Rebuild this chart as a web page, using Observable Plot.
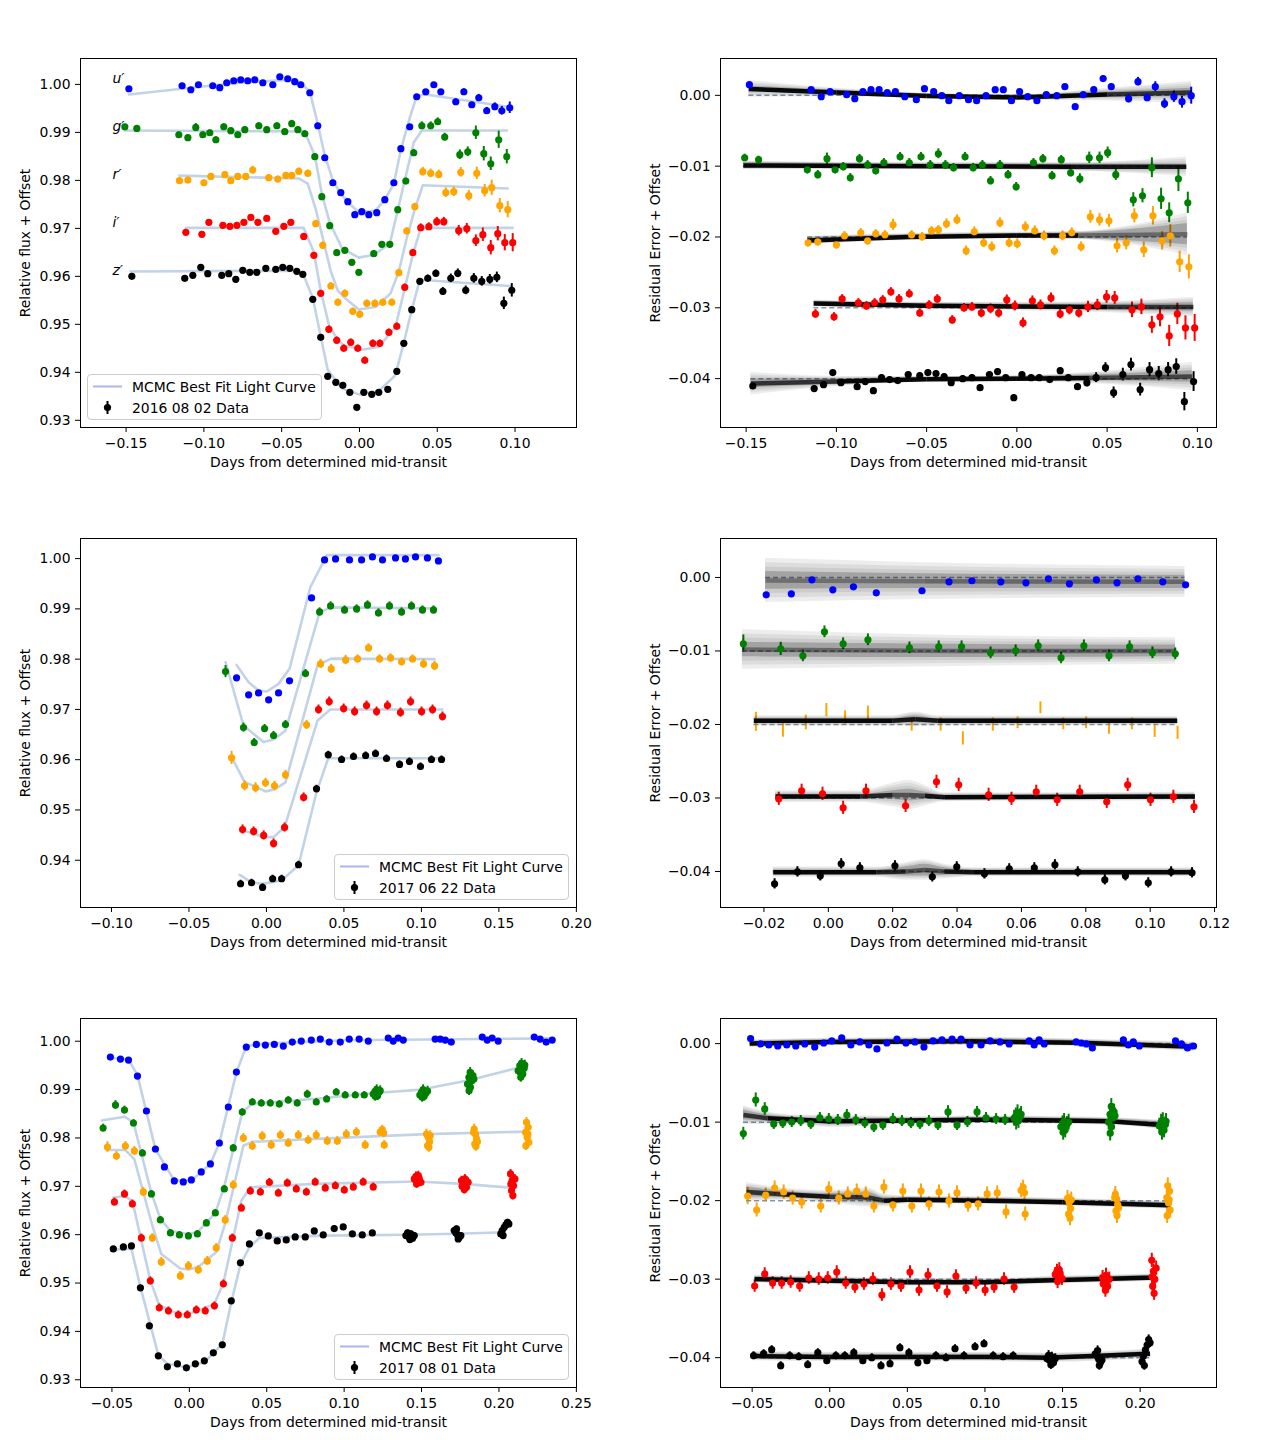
<!DOCTYPE html>
<html>
<head>
<meta charset="utf-8">
<script src="https://cdn.jsdelivr.net/npm/d3@7"></script>
<script src="https://cdn.jsdelivr.net/npm/@observablehq/plot@0.6"></script>
<style>
  body { margin: 0; background: #fff; }
  #fig { position: relative; width: 1280px; height: 1440px; background: #fff; font-family: "DejaVu Sans", sans-serif; overflow: hidden; }
  #fig svg.panel { position: absolute; }
  .legend { position: absolute; width: 235px; height: 46px; box-sizing: border-box; border: 1px solid #cccccc; border-radius: 4px; background: rgba(255,255,255,0.8); font-size: 13.9px; color: #000; }
  .legend .t { position: absolute; left: 44px; line-height: 18px; white-space: nowrap; }
</style>
</head>
<body>
<div id="fig"></div>
<script>
// ---------- shared labels, colours, ticks ----------
const bandNames = ["u′", "g′", "r′", "i′", "z′"];
const bandColors = ["#0000ff", "#008000", "#ffa500", "#ff0000", "#000000"];
const fluxOffsets = [1.00, 0.99, 0.98, 0.97, 0.96];
const residualOffsets = [0.00, -0.01, -0.02, -0.03, -0.04];
const nightDates = ["2016 08 02", "2017 06 22", "2017 08 01"];
const legendLineLabel = "MCMC Best Fit Light Curve";
const xAxisLabel = "Days from determined mid-transit";
const fluxAxisLabel = "Relative flux + Offset";
const residAxisLabel = "Residual Error + Offset";

const ticksX1 = [-0.15, -0.10, -0.05, 0.00, 0.05, 0.10];
const ticksX3 = [-0.10, -0.05, 0.00, 0.05, 0.10, 0.15, 0.20];
const ticksX4 = [-0.02, 0.00, 0.02, 0.04, 0.06, 0.08, 0.10, 0.12];
const ticksX5 = [-0.05, 0.00, 0.05, 0.10, 0.15, 0.20, 0.25];
const ticksX6 = [-0.05, 0.00, 0.05, 0.10, 0.15, 0.20];
const ticksFlux = [0.93, 0.94, 0.95, 0.96, 0.97, 0.98, 0.99, 1.00];
const ticksFlux3 = [0.94, 0.95, 0.96, 0.97, 0.98, 0.99, 1.00];
const ticksResid = [0.00, -0.01, -0.02, -0.03, -0.04];

// ---------- night 1 (2016 08 02) ----------
const u1x = [-0.1482,-0.1140,-0.1084,-0.1035,-0.0943,-0.0898,-0.0853,-0.0808,-0.0763,-0.0718,-0.0673,-0.0621,-0.0557,-0.0512,-0.0461,-0.0416,-0.0377,-0.0319,-0.0268,-0.0223,-0.0171,-0.0120,-0.0075,-0.0030,0.0015,0.0060,0.0111,0.0163,0.0221,0.0266,0.0323,0.0368,0.0426,0.0478,0.0523,0.0619,0.0671,0.0722,0.0767,0.0818,0.0870,0.0915,0.0966];
const u1y = [0.99910,0.99972,0.99889,0.99993,0.99972,0.99931,1.00035,1.00076,1.00097,1.00076,1.00097,1.00035,0.99993,1.00160,1.00118,1.00056,0.99993,0.99826,0.99139,0.98472,0.97951,0.97743,0.97556,0.97285,0.97347,0.97285,0.97326,0.97597,0.97951,0.98660,0.99118,0.99743,0.99847,0.99993,0.99847,0.99639,0.99847,0.99576,0.99722,0.99451,0.99535,0.99451,0.99514];
const u1e = [0.0003,0.0003,0.0003,0.0003,0.0003,0.0003,0.0003,0.0003,0.0003,0.0003,0.0003,0.0003,0.0003,0.0003,0.0003,0.0003,0.0003,0.0003,0.0003,0.0003,0.0003,0.0003,0.0003,0.0003,0.0003,0.0003,0.0003,0.0003,0.0003,0.0003,0.0003,0.0003,0.0004,0.0004,0.0004,0.0006,0.0006,0.0005,0.0007,0.0007,0.0008,0.0009,0.0012];
const u1r = [0.00151,0.00080,-0.00019,0.00052,0.00009,-0.00047,0.00052,0.00080,0.00080,0.00038,0.00052,-0.00019,-0.00061,0.00094,0.00052,-0.00005,-0.00075,-0.00005,-0.00061,-0.00075,-0.00005,0.00080,0.00080,-0.00075,0.00052,-0.00019,-0.00075,0.00009,-0.00005,0.00122,-0.00160,0.00009,0.00080,0.00236,0.00122,-0.00047,0.00193,-0.00033,0.00122,-0.00118,-0.00019,-0.00090,-0.00005];
const u1mx = [-0.1482,-0.1140,-0.0763,-0.0416,-0.0377,-0.0319,-0.0268,-0.0223,-0.0171,-0.0120,-0.0075,-0.0004,0.0103,0.0163,0.0221,0.0266,0.0323,0.0368,0.0426,0.0966];
const u1my = [0.9979,0.9991,1.0004,1.0010,1.0003,0.9985,0.9918,0.9852,0.9800,0.9772,0.9755,0.9733,0.9737,0.9760,0.9793,0.9864,0.9930,0.9976,0.9979,0.9953];

const g1x = [-0.1508,-0.1431,-0.1161,-0.1103,-0.1052,-0.1007,-0.0962,-0.0923,-0.0872,-0.0827,-0.0782,-0.0737,-0.0647,-0.0596,-0.0531,-0.0480,-0.0435,-0.0396,-0.0351,-0.0287,-0.0242,-0.0191,-0.0146,-0.0094,-0.0049,-0.0004,0.0092,0.0144,0.0195,0.0246,0.0298,0.0349,0.0401,0.0458,0.0503,0.0548,0.0645,0.0696,0.0748,0.0799,0.0844,0.0895,0.0947];
const g1y = [0.99118,0.99083,0.98951,0.98889,0.99104,0.98951,0.98993,0.98847,0.99118,0.99035,0.98951,0.99056,0.99139,0.99056,0.99139,0.99014,0.99181,0.99056,0.98972,0.98493,0.97660,0.97056,0.96493,0.96542,0.96292,0.96083,0.96472,0.96667,0.96667,0.97389,0.97986,0.98576,0.99139,0.99139,0.99222,0.98903,0.98535,0.98597,0.98993,0.98556,0.98347,0.98847,0.98493];
const g1e = [0.0005,0.0005,0.0006,0.0006,0.0008,0.0006,0.0006,0.0006,0.0006,0.0006,0.0006,0.0006,0.0006,0.0006,0.0006,0.0006,0.0007,0.0006,0.0006,0.0006,0.0006,0.0006,0.0006,0.0006,0.0006,0.0006,0.0006,0.0006,0.0006,0.0006,0.0006,0.0007,0.0008,0.0008,0.0008,0.0008,0.0010,0.0010,0.0014,0.0015,0.0014,0.0018,0.0015];
const g1r = [-0.00881,-0.00909,-0.01051,-0.01121,-0.00895,-0.01051,-0.01008,-0.01164,-0.00895,-0.00980,-0.01065,-0.00952,-0.00867,-0.00952,-0.00867,-0.00980,-0.00825,-0.00980,-0.01022,-0.00867,-0.01022,-0.00980,-0.01206,-0.00980,-0.01121,-0.01291,-0.00952,-0.00895,-0.01135,-0.00909,-0.01093,-0.01178,-0.00881,-0.00881,-0.00810,-0.01121,-0.01475,-0.01418,-0.01022,-0.01461,-0.01658,-0.01178,-0.01517];
const g1mx = [-0.1508,-0.0353,-0.0287,-0.0242,-0.0191,-0.0111,-0.0004,0.0092,0.0195,0.0349,0.0401,0.0947];
const g1my = [0.9904,0.9902,0.9852,0.9772,0.9712,0.9658,0.9639,0.9645,0.9668,0.9879,0.9904,0.9904];

const r1x = [-0.1157,-0.1103,-0.1000,-0.0955,-0.0865,-0.0827,-0.0782,-0.0731,-0.0686,-0.0583,-0.0525,-0.0473,-0.0435,-0.0390,-0.0332,-0.0281,-0.0236,-0.0184,-0.0139,-0.0094,-0.0043,0.0002,0.0047,0.0099,0.0150,0.0208,0.0253,0.0304,0.0356,0.0407,0.0458,0.0510,0.0555,0.0606,0.0651,0.0703,0.0754,0.0805,0.0850,0.0902,0.0953];
const r1y = [0.97993,0.98007,0.97951,0.98083,0.98118,0.97993,0.98083,0.98083,0.98215,0.98056,0.98028,0.98104,0.98104,0.98188,0.98146,0.97097,0.96646,0.95799,0.95458,0.95646,0.95271,0.95208,0.95438,0.95438,0.95458,0.95458,0.96076,0.96944,0.97451,0.98181,0.98146,0.98125,0.97743,0.97764,0.98167,0.97681,0.98146,0.97785,0.97847,0.97472,0.97389];
const r1e = [0.0006,0.0006,0.0006,0.0006,0.0006,0.0006,0.0006,0.0006,0.0008,0.0006,0.0006,0.0006,0.0006,0.0007,0.0007,0.0007,0.0007,0.0007,0.0007,0.0007,0.0007,0.0007,0.0007,0.0007,0.0007,0.0007,0.0007,0.0007,0.0007,0.0009,0.0009,0.0009,0.0010,0.0010,0.0010,0.0011,0.0013,0.0013,0.0016,0.0015,0.0017];
const r1r = [-0.02082,-0.02068,-0.02111,-0.01984,-0.01941,-0.02054,-0.01955,-0.01969,-0.01828,-0.01969,-0.01998,-0.01913,-0.01899,-0.01814,-0.01757,-0.02196,-0.01927,-0.02082,-0.02139,-0.01800,-0.02082,-0.02097,-0.01856,-0.01913,-0.01984,-0.02196,-0.01984,-0.01941,-0.02139,-0.01715,-0.01757,-0.01772,-0.02125,-0.02082,-0.01701,-0.02181,-0.01701,-0.02054,-0.01984,-0.02351,-0.02422];
const r1mx = [-0.1157,-0.0390,-0.0332,-0.0281,-0.0236,-0.0184,-0.0139,-0.0090,-0.0004,0.0103,0.0199,0.0253,0.0304,0.0356,0.0407,0.0953];
const r1my = [0.9810,0.9804,0.9793,0.9740,0.9680,0.9610,0.9570,0.9554,0.9531,0.9536,0.9564,0.9610,0.9680,0.9740,0.9790,0.9783];

const i1x = [-0.1116,-0.1013,-0.0968,-0.0878,-0.0833,-0.0788,-0.0743,-0.0698,-0.0653,-0.0596,-0.0538,-0.0486,-0.0441,-0.0358,-0.0293,-0.0249,-0.0197,-0.0146,-0.0101,-0.0056,-0.0011,0.0034,0.0086,0.0131,0.0189,0.0240,0.0291,0.0343,0.0394,0.0446,0.0497,0.0542,0.0638,0.0690,0.0748,0.0793,0.0844,0.0889,0.0934,0.0985];
const i1y = [0.96917,0.96875,0.97125,0.97063,0.97042,0.97063,0.97125,0.97229,0.97125,0.97208,0.96938,0.97042,0.97125,0.96833,0.96438,0.95646,0.94896,0.94667,0.94500,0.94625,0.94500,0.94250,0.94604,0.94604,0.94833,0.94958,0.95771,0.96493,0.97014,0.97035,0.97139,0.97139,0.96951,0.96993,0.96743,0.96868,0.96597,0.96889,0.96701,0.96701];
const i1e = [0.0006,0.0006,0.0006,0.0006,0.0006,0.0006,0.0006,0.0006,0.0006,0.0006,0.0006,0.0006,0.0006,0.0006,0.0006,0.0006,0.0007,0.0007,0.0007,0.0007,0.0007,0.0007,0.0007,0.0007,0.0007,0.0007,0.0007,0.0007,0.0008,0.0008,0.0009,0.0009,0.0011,0.0011,0.0012,0.0014,0.0015,0.0015,0.0017,0.0019];
const i1r = [-0.03086,-0.03128,-0.02874,-0.02930,-0.02973,-0.02930,-0.02888,-0.02775,-0.02874,-0.02803,-0.03072,-0.02959,-0.02874,-0.03171,-0.03001,-0.02987,-0.03072,-0.03015,-0.03072,-0.02888,-0.02973,-0.03213,-0.02902,-0.02959,-0.02860,-0.03086,-0.03029,-0.03072,-0.02987,-0.02959,-0.02846,-0.02860,-0.03029,-0.02987,-0.03241,-0.03128,-0.03397,-0.03086,-0.03284,-0.03284];
const i1mx = [-0.1116,-0.0358,-0.0293,-0.0249,-0.0197,-0.0146,-0.0101,0.0017,0.0124,0.0231,0.0291,0.0343,0.0394,0.0985];
const i1my = [0.9701,0.9701,0.9650,0.9570,0.9500,0.9470,0.9456,0.9447,0.9453,0.9494,0.9575,0.9645,0.9701,0.9701];

const z1x = [-0.1463,-0.1123,-0.1071,-0.1020,-0.0975,-0.0885,-0.0840,-0.0795,-0.0750,-0.0705,-0.0660,-0.0602,-0.0538,-0.0493,-0.0448,-0.0403,-0.0364,-0.0300,-0.0249,-0.0204,-0.0152,-0.0107,-0.0062,-0.0017,0.0028,0.0079,0.0124,0.0182,0.0240,0.0285,0.0336,0.0388,0.0439,0.0491,0.0536,0.0587,0.0632,0.0683,0.0735,0.0786,0.0838,0.0883,0.0928,0.0979];
const z1y = [0.96000,0.95958,0.96021,0.96188,0.96056,0.96021,0.96056,0.95938,0.96125,0.96083,0.96083,0.96167,0.96146,0.96188,0.96167,0.96104,0.96042,0.95521,0.94729,0.93917,0.93792,0.93729,0.93583,0.93271,0.93583,0.93542,0.93583,0.93646,0.94021,0.94604,0.95306,0.95896,0.95958,0.96063,0.95688,0.95958,0.96063,0.95708,0.95958,0.95896,0.95938,0.95979,0.95438,0.95708];
const z1e = [0.0004,0.0004,0.0004,0.0004,0.0004,0.0004,0.0004,0.0004,0.0004,0.0004,0.0004,0.0004,0.0004,0.0004,0.0004,0.0004,0.0004,0.0004,0.0004,0.0004,0.0004,0.0004,0.0004,0.0004,0.0004,0.0004,0.0004,0.0004,0.0004,0.0004,0.0004,0.0006,0.0007,0.0007,0.0008,0.0009,0.0009,0.0009,0.0010,0.0010,0.0010,0.0011,0.0013,0.0014];
const z1r = [-0.04104,-0.04141,-0.04085,-0.03915,-0.04057,-0.04113,-0.04042,-0.04170,-0.03986,-0.04014,-0.04028,-0.03943,-0.03958,-0.03915,-0.03929,-0.03972,-0.04057,-0.04000,-0.03986,-0.04127,-0.03943,-0.03901,-0.03986,-0.04269,-0.03943,-0.03986,-0.03986,-0.04014,-0.03887,-0.03986,-0.04113,-0.04057,-0.03986,-0.03845,-0.04198,-0.03943,-0.03802,-0.04155,-0.03873,-0.03929,-0.03873,-0.03830,-0.04325,-0.04042];
const z1mx = [-0.1472,-0.0401,-0.0362,-0.0300,-0.0249,-0.0204,-0.0111,-0.0004,0.0124,0.0231,0.0285,0.0336,0.0388,0.0966];
const z1my = [0.9610,0.9612,0.9605,0.9555,0.9475,0.9405,0.9366,0.9354,0.9361,0.9394,0.9462,0.9530,0.9593,0.9580];

// residual-model spread (posterior draws) for night 1: knots, centre, dense core and faint envelope half-widths
const t1uX = [-0.1485,-0.10,-0.05,0.00,0.05,0.0968];
const t1uMid = [0.0009,0.0004,-0.0001,-0.0003,0.0001,0.0004];
const t1uIn = [0.0004,0.0003,0.0003,0.0003,0.0004,0.0006];
const t1uOut = [0.0012,0.0006,0.0004,0.0004,0.0009,0.0016];
const t1gX = [-0.1515,-0.05,0.03,0.0939];
const t1gMid = [-0.0099,-0.0100,-0.0101,-0.0101];
const t1gIn = [0.0004,0.0003,0.0004,0.0004];
const t1gOut = [0.0006,0.0005,0.0006,0.0014];
const t1rX = [-0.1159,-0.06,0.00,0.034,0.0945];
const t1rMid = [-0.0205,-0.0200,-0.0198,-0.0198,-0.0196];
const t1rIn = [0.0004,0.0003,0.0003,0.0004,0.0015];
const t1rOut = [0.0006,0.0005,0.0005,0.0006,0.0030];
const t1iX = [-0.1125,-0.05,0.00,0.05,0.0978];
const t1iMid = [-0.0294,-0.0297,-0.0298,-0.0299,-0.0299];
const t1iIn = [0.0003,0.0003,0.0003,0.0004,0.0006];
const t1iOut = [0.0005,0.0005,0.0006,0.0008,0.0014];
const t1zX = [-0.1474,-0.10,-0.05,0.00,0.04,0.0972];
const t1zMid = [-0.0407,-0.0404,-0.0401,-0.0400,-0.0399,-0.0397];
const t1zIn = [0.0006,0.0004,0.0003,0.0003,0.0004,0.0008];
const t1zOut = [0.0016,0.0007,0.0004,0.0004,0.0008,0.0020];

// ---------- night 2 (2017 06 22) ----------
const u2x = [-0.0193,-0.0115,-0.0051,0.0014,0.0078,0.0149,0.0291,0.0375,0.0446,0.0536,0.0614,0.0684,0.0749,0.0833,0.0897,0.0962,0.1039,0.1110];
const u2y = [0.97628,0.97290,0.97329,0.97190,0.97329,0.97568,0.99218,0.99973,0.99993,0.99973,0.99973,1.00033,0.99973,1.00013,0.99993,1.00033,1.00013,0.99954];
const u2e = [0.0003,0.0003,0.0003,0.0003,0.0003,0.0003,0.0003,0.0003,0.0003,0.0003,0.0003,0.0003,0.0003,0.0003,0.0003,0.0003,0.0003,0.0003];
const u2r = [-0.00236,-0.00222,-0.00032,-0.00168,-0.00127,-0.00209,-0.00181,-0.00059,-0.00045,-0.00059,-0.00073,-0.00018,-0.00086,-0.00032,-0.00073,-0.00018,-0.00059,-0.00100];
const u2mx = [-0.0193,-0.0115,-0.0051,0.0003,0.0078,0.0149,0.0283,0.0390,0.1110];
const u2my = [0.97886,0.97541,0.97376,0.97356,0.97508,0.97807,0.99430,1.00070,1.00070];

const g2x = [-0.0264,-0.0148,-0.0079,-0.0012,0.0046,0.0123,0.0252,0.0343,0.0414,0.0504,0.0582,0.0652,0.0723,0.0794,0.0872,0.0936,0.1007,0.1078];
const g2y = [0.97753,0.96640,0.96342,0.96620,0.96481,0.96700,0.97714,0.98940,0.99059,0.98979,0.98999,0.99079,0.98920,0.99059,0.98940,0.99059,0.98979,0.98979];
const g2e = [0.0012,0.0009,0.0008,0.0008,0.0008,0.0008,0.0008,0.0008,0.0008,0.0008,0.0008,0.0008,0.0008,0.0008,0.0008,0.0008,0.0008,0.0008];
const g2r = [-0.00902,-0.00971,-0.01066,-0.00739,-0.00902,-0.00848,-0.00957,-0.00943,-0.00943,-0.01025,-0.00998,-0.00930,-0.01093,-0.00930,-0.01066,-0.00943,-0.01025,-0.01039];
const g2mx = [-0.0264,-0.0148,-0.0019,0.0046,0.0123,0.0343,0.0414,0.1078];
const g2my = [0.9794,0.9668,0.9635,0.9640,0.9658,0.9893,0.9903,0.9901];

const r2x = [-0.0225,-0.0141,-0.0070,-0.0006,0.0052,0.0123,0.0259,0.0349,0.0418,0.0511,0.0588,0.0659,0.0730,0.0801,0.0872,0.0943,0.1014,0.1085];
const r2y = [0.96037,0.95480,0.95441,0.95540,0.95480,0.95699,0.96693,0.97906,0.97806,0.97985,0.98005,0.98224,0.98005,0.98025,0.97946,0.98005,0.97906,0.97866];
const r2e = [0.0013,0.0010,0.0010,0.0009,0.0009,0.0009,0.0009,0.0009,0.0009,0.0009,0.0008,0.0008,0.0008,0.0008,0.0008,0.0008,0.0009,0.0009];
const r2r = [-0.01964,-0.02073,-0.01973,-0.01805,-0.01905,-0.01841,-0.02000,-0.02000,-0.02190,-0.02000,-0.01977,-0.01773,-0.01991,-0.01977,-0.02054,-0.01991,-0.02086,-0.02113];
const r2mx = [-0.0225,-0.0141,-0.0006,0.0052,0.0123,0.0330,0.0418,0.1085];
const r2my = [0.9605,0.9556,0.9537,0.9541,0.9555,0.9788,0.9801,0.9800];

const i2x = [-0.0154,-0.0083,-0.0018,0.0046,0.0117,0.0240,0.0336,0.0405,0.0498,0.0569,0.0646,0.0711,0.0781,0.0865,0.0930,0.1001,0.1072,0.1136];
const i2y = [0.94612,0.94573,0.94493,0.94334,0.94652,0.95249,0.96998,0.97157,0.97018,0.96958,0.97078,0.96958,0.97078,0.96938,0.97157,0.96958,0.96998,0.96859];
const i2e = [0.0009,0.0009,0.0009,0.0009,0.0009,0.0009,0.0009,0.0009,0.0009,0.0009,0.0009,0.0009,0.0009,0.0009,0.0009,0.0009,0.0009,0.0009];
const i2r = [-0.03011,-0.02902,-0.02943,-0.03134,-0.02902,-0.03107,-0.02780,-0.02821,-0.02957,-0.03011,-0.02916,-0.03025,-0.02916,-0.03052,-0.02821,-0.03025,-0.02984,-0.03120];
const i2mx = [-0.0154,-0.0083,-0.0018,0.0046,0.0117,0.0330,0.0412,0.1136];
const i2my = [0.9459,0.9453,0.9446,0.9446,0.9466,0.9678,0.9700,0.9700];

const z2x = [-0.0167,-0.0096,-0.0025,0.0040,0.0098,0.0207,0.0323,0.0399,0.0485,0.0562,0.0640,0.0704,0.0775,0.0859,0.0923,0.0994,0.1065,0.1130];
const z2y = [0.93532,0.93552,0.93459,0.93632,0.93632,0.93910,0.95421,0.96097,0.96004,0.96064,0.96084,0.96123,0.96024,0.95905,0.95964,0.95865,0.96004,0.96004];
const z2e = [0.0007,0.0007,0.0007,0.0007,0.0007,0.0007,0.0007,0.0007,0.0007,0.0007,0.0007,0.0007,0.0007,0.0007,0.0007,0.0007,0.0007,0.0007];
const z2r = [-0.04168,-0.04005,-0.04059,-0.03896,-0.03950,-0.03923,-0.04073,-0.03937,-0.04032,-0.03964,-0.03950,-0.03909,-0.04005,-0.04113,-0.04059,-0.04154,-0.04005,-0.04018];
const z2mx = [-0.0173,-0.0096,-0.0025,0.0098,0.0207,0.0323,0.0399,0.1130];
const z2my = [0.9371,0.9356,0.9353,0.9360,0.9390,0.9535,0.9603,0.9603];

const t2uX = [-0.0195,0.03,0.1108];
const t2uMid = [-0.0004,-0.0005,-0.0006];
const t2uIn = [0.0012,0.0010,0.0009];
const t2uOut = [0.0030,0.0025,0.0021];
const t2gX = [-0.0267,0.04,0.1079];
const t2gMid = [-0.0098,-0.0100,-0.0100];
const t2gIn = [0.0010,0.0009,0.0008];
const t2gOut = [0.0027,0.0021,0.0018];
const t2rX = [-0.0231,0.020,0.027,0.034,0.1084];
const t2rMid = [-0.0195,-0.0195,-0.0193,-0.0195,-0.0195];
const t2rIn = [0.0003,0.0003,0.0005,0.0003,0.0003];
const t2rOut = [0.0007,0.0007,0.0010,0.0007,0.0006];
const t2iX = [-0.0164,0.010,0.020,0.025,0.030,0.036,0.1139];
const t2iMid = [-0.0298,-0.0298,-0.0296,-0.0296,-0.0297,-0.0299,-0.0298];
const t2iIn = [0.0003,0.0003,0.0006,0.0008,0.0005,0.0003,0.0003];
const t2iOut = [0.0008,0.0008,0.0016,0.0020,0.0014,0.0006,0.0006];
const t2zX = [-0.0171,0.015,0.024,0.030,0.036,0.045,0.1133];
const t2zMid = [-0.0401,-0.0401,-0.0400,-0.0398,-0.0400,-0.0401,-0.0401];
const t2zIn = [0.0003,0.0003,0.0006,0.0008,0.0005,0.0003,0.0003];
const t2zOut = [0.0007,0.0007,0.0012,0.0014,0.0010,0.0006,0.0006];

// ---------- night 3 (2017 08 01) ----------
const u3x = [-0.0510,-0.0445,-0.0393,-0.0335,-0.0277,-0.0219,-0.0161,-0.0097,-0.0039,0.0013,0.0077,0.0136,0.0194,0.0252,0.0304,0.0368,0.0433,0.0491,0.0549,0.0607,0.0665,0.0723,0.0788,0.0846,0.0904,0.0975,0.1033,0.1097,0.1156,0.1285,0.1317,0.1349,0.1382,0.1588,0.1621,0.1653,0.1692,0.1892,0.1924,0.1956,0.1995,0.2228,0.2266,0.2305,0.2344];
const u3y = [0.99673,0.99632,0.99611,0.99280,0.98557,0.97772,0.97400,0.97111,0.97090,0.97132,0.97297,0.97462,0.97896,0.98640,0.99363,0.99879,0.99934,0.99921,0.99934,0.99900,0.99983,1.00003,1.00024,1.00045,0.99983,0.99983,1.00045,1.00045,1.00003,1.00065,1.00003,1.00065,1.00024,1.00045,1.00045,1.00024,0.99983,1.00086,1.00024,1.00065,1.00003,1.00086,1.00045,0.99983,1.00024];
const u3e = [0.0003,0.0003,0.0003,0.0003,0.0003,0.0003,0.0003,0.0003,0.0003,0.0003,0.0003,0.0003,0.0003,0.0003,0.0003,0.0003,0.0003,0.0003,0.0003,0.0003,0.0003,0.0003,0.0003,0.0003,0.0003,0.0003,0.0003,0.0003,0.0003,0.0003,0.0003,0.0003,0.0003,0.0003,0.0003,0.0003,0.0003,0.0003,0.0003,0.0003,0.0003,0.0003,0.0003,0.0003,0.0003];
const u3r = [0.00064,-0.00004,-0.00017,-0.00030,-0.00017,-0.00030,-0.00004,-0.00042,0.00008,0.00034,0.00072,-0.00017,0.00021,-0.00017,-0.00068,0.00008,0.00059,0.00008,0.00021,-0.00042,0.00034,0.00047,0.00059,0.00059,-0.00017,-0.00017,0.00034,0.00021,-0.00004,0.00034,-0.00017,0.00047,-0.00004,0.00021,0.00008,-0.00004,-0.00055,0.00047,-0.00017,0.00021,-0.00030,0.00034,-0.00004,-0.00055,-0.00030];
const u3mx = [-0.0510,-0.0393,-0.0335,-0.0219,-0.0097,0.0013,0.0136,0.0194,0.0304,0.0368,0.0491,0.1000,0.2344];
const u3my = [0.9966,0.9962,0.9930,0.9777,0.9712,0.9712,0.9746,0.9790,0.9935,0.9990,0.9995,1.0002,1.0006];

const g3x = [-0.0557,-0.0477,-0.0419,-0.0361,-0.0303,-0.0245,-0.0187,-0.0122,-0.0064,-0.0006,0.0052,0.0110,0.0168,0.0226,0.0284,0.0342,0.0407,0.0465,0.0523,0.0581,0.0639,0.0697,0.0762,0.0820,0.0887,0.0949,0.1007,0.1072,0.1130,0.1188,0.1199,0.1210,0.1216,0.1225,0.1233,0.1201,0.1489,0.1500,0.1510,0.1517,0.1528,0.1539,0.1504,0.1797,0.1806,0.1814,0.1823,0.1832,0.1816,0.1807,0.1838,0.2124,0.2135,0.2146,0.2154,0.2163,0.2141,0.2167];
const g3y = [0.98206,0.98681,0.98578,0.98309,0.97689,0.96842,0.96305,0.96037,0.95995,0.95975,0.96016,0.96243,0.96450,0.96946,0.97793,0.98536,0.98743,0.98722,0.98722,0.98701,0.98784,0.98722,0.98908,0.98743,0.98805,0.98950,0.98888,0.98888,0.98888,0.98909,0.98957,0.98998,0.98874,0.98943,0.98977,0.98860,0.98888,0.98943,0.98998,0.98860,0.98929,0.98970,0.98840,0.99115,0.99253,0.99356,0.99184,0.99287,0.99046,0.98977,0.99218,0.99390,0.99494,0.99542,0.99322,0.99439,0.99253,0.99508];
const g3e = [0.0008,0.0009,0.0008,0.0007,0.0007,0.0007,0.0007,0.0007,0.0007,0.0007,0.0007,0.0007,0.0007,0.0007,0.0007,0.0007,0.0007,0.0007,0.0007,0.0007,0.0007,0.0007,0.0008,0.0007,0.0007,0.0007,0.0007,0.0007,0.0007,0.0010,0.0010,0.0010,0.0010,0.0010,0.0010,0.0010,0.0010,0.0010,0.0010,0.0010,0.0010,0.0010,0.0010,0.0010,0.0010,0.0010,0.0010,0.0010,0.0010,0.0010,0.0010,0.0010,0.0010,0.0010,0.0010,0.0010,0.0010,0.0010];
const g3r = [-0.01146,-0.00718,-0.00832,-0.01023,-0.01011,-0.00998,-0.00985,-0.01023,-0.00947,-0.00960,-0.00972,-0.00909,-0.00972,-0.01011,-0.01062,-0.01036,-0.00960,-0.00985,-0.01011,-0.01023,-0.00985,-0.01036,-0.00870,-0.01036,-0.00998,-0.00870,-0.00947,-0.00960,-0.00972,-0.0095,-0.0092,-0.0088,-0.0098,-0.0093,-0.0090,-0.0100,-0.0106,-0.0102,-0.0099,-0.0110,-0.0103,-0.0100,-0.0113,-0.0100,-0.0090,-0.0080,-0.0095,-0.0087,-0.0106,-0.0114,-0.0092,-0.0105,-0.0100,-0.0098,-0.0110,-0.0103,-0.0113,-0.0099];
const g3mx = [-0.0566,-0.0419,-0.0361,-0.0245,-0.0187,-0.0122,-0.0006,0.0052,0.0168,0.0226,0.0342,0.0407,0.0820,0.1199,0.1500,0.1814,0.2146];
const g3my = [0.9836,0.9844,0.9832,0.9686,0.9633,0.9608,0.9601,0.9605,0.9645,0.9700,0.9853,0.9871,0.9881,0.9893,0.9900,0.9920,0.9947];

const r3x = [-0.0529,-0.0471,-0.0413,-0.0355,-0.0297,-0.0239,-0.0181,-0.0058,-0.0006,0.0058,0.0116,0.0174,0.0232,0.0284,0.0349,0.0407,0.0471,0.0529,0.0588,0.0639,0.0704,0.0768,0.0820,0.0891,0.0956,0.1014,0.1079,0.1136,0.1233,0.1246,0.1259,0.1255,0.1532,0.1543,0.1552,0.1539,0.1556,0.1548,0.1840,0.1849,0.1855,0.1844,0.1861,0.1851,0.1836,0.2178,0.2189,0.2172,0.2183,0.2193,0.2174,0.2187];
const r3y = [0.97813,0.97627,0.97834,0.97731,0.96884,0.95933,0.95437,0.95148,0.95355,0.95272,0.95458,0.95727,0.96305,0.97028,0.97999,0.97834,0.98041,0.97855,0.98061,0.97896,0.98061,0.97958,0.98061,0.97937,0.97937,0.98082,0.98123,0.97855,0.98123,0.98171,0.97855,0.98102,0.98082,0.98013,0.97924,0.97841,0.98048,0.97806,0.98185,0.98082,0.97979,0.97875,0.97924,0.97827,0.98116,0.98323,0.98220,0.98116,0.98013,0.97910,0.97841,0.98082];
const r3e = [0.0011,0.0009,0.0009,0.0009,0.0009,0.0009,0.0009,0.0009,0.0009,0.0009,0.0009,0.0009,0.0009,0.0009,0.0009,0.0009,0.0009,0.0009,0.0009,0.0009,0.0009,0.0009,0.0009,0.0009,0.0009,0.0009,0.0009,0.0009,0.0009,0.0009,0.0009,0.0009,0.0010,0.0010,0.0010,0.0010,0.0010,0.0010,0.0010,0.0010,0.0010,0.0010,0.0010,0.0010,0.0010,0.0010,0.0010,0.0010,0.0010,0.0010,0.0010,0.0010];
const r3r = [-0.01941,-0.02119,-0.01928,-0.01839,-0.01890,-0.01966,-0.02017,-0.02068,-0.01851,-0.01966,-0.01915,-0.01877,-0.01915,-0.02068,-0.01826,-0.02055,-0.01877,-0.02068,-0.01877,-0.02042,-0.01890,-0.02004,-0.01902,-0.02055,-0.02042,-0.01915,-0.01902,-0.02144,-0.0187,-0.0183,-0.0217,-0.0190,-0.0197,-0.0202,-0.0210,-0.0217,-0.0199,-0.0222,-0.0192,-0.0198,-0.0205,-0.0213,-0.0209,-0.0219,-0.0196,-0.0181,-0.0188,-0.0196,-0.0203,-0.0212,-0.0219,-0.0199];
const r3mx = [-0.0529,-0.0413,-0.0355,-0.0239,-0.0181,-0.0058,-0.0006,0.0058,0.0174,0.0232,0.0349,0.0407,0.0820,0.1532,0.2172];
const r3my = [0.9775,0.9775,0.9756,0.9619,0.9560,0.9530,0.9528,0.9533,0.9564,0.9624,0.9784,0.9792,0.9798,0.9808,0.9813];

const i3x = [-0.0484,-0.0419,-0.0368,-0.0310,-0.0252,-0.0194,-0.0135,-0.0071,-0.0013,0.0045,0.0103,0.0162,0.0220,0.0278,0.0336,0.0394,0.0459,0.0517,0.0575,0.0633,0.0691,0.0756,0.0813,0.0878,0.0943,0.1001,0.1059,0.1123,0.1188,0.1453,0.1464,0.1474,0.1485,0.1496,0.1468,0.1479,0.1758,0.1769,0.1780,0.1790,0.1776,0.1801,0.1762,0.2075,0.2085,0.2094,0.2081,0.2103,0.2090,0.2077];
const i3y = [0.96677,0.96842,0.96636,0.95933,0.95045,0.94487,0.94425,0.94342,0.94342,0.94446,0.94425,0.94528,0.94983,0.95933,0.96553,0.96904,0.96883,0.97083,0.96863,0.97070,0.96946,0.96883,0.97090,0.96966,0.97014,0.96925,0.96987,0.97090,0.96987,0.97152,0.97207,0.97118,0.97166,0.97083,0.97049,0.97221,0.97118,0.97049,0.97152,0.96980,0.96932,0.97083,0.97001,0.97256,0.97118,0.97014,0.96911,0.97152,0.96808,0.97049];
const i3e = [0.0008,0.0008,0.0008,0.0008,0.0008,0.0008,0.0008,0.0008,0.0008,0.0008,0.0008,0.0008,0.0008,0.0008,0.0008,0.0008,0.0008,0.0008,0.0008,0.0008,0.0008,0.0008,0.0008,0.0008,0.0008,0.0008,0.0008,0.0008,0.0008,0.0009,0.0009,0.0009,0.0009,0.0009,0.0009,0.0009,0.0009,0.0009,0.0009,0.0009,0.0009,0.0009,0.0009,0.0009,0.0009,0.0009,0.0009,0.0009,0.0009,0.0009];
const i3r = [-0.03087,-0.02934,-0.03049,-0.03049,-0.03036,-0.03087,-0.02985,-0.02998,-0.02985,-0.02909,-0.03049,-0.03100,-0.03062,-0.02998,-0.03202,-0.03062,-0.03087,-0.02909,-0.03138,-0.02947,-0.03087,-0.03163,-0.02960,-0.03113,-0.03049,-0.03138,-0.03100,-0.02998,-0.03100,-0.0294,-0.0290,-0.0297,-0.0293,-0.0299,-0.0303,-0.0288,-0.0298,-0.0303,-0.0295,-0.0309,-0.0314,-0.0300,-0.0306,-0.0276,-0.0290,-0.0300,-0.0309,-0.0286,-0.0318,-0.0297];
const i3mx = [-0.0490,-0.0419,-0.0368,-0.0252,-0.0194,-0.0071,-0.0013,0.0045,0.0162,0.0220,0.0336,0.0394,0.0813,0.1468,0.1769,0.2081];
const i3my = [0.9677,0.9680,0.9670,0.9505,0.9454,0.9436,0.9436,0.9441,0.9457,0.9500,0.9670,0.9698,0.9705,0.9710,0.9705,0.9697];

const z3x = [-0.0491,-0.0426,-0.0374,-0.0316,-0.0258,-0.0200,-0.0142,-0.0077,-0.0019,0.0039,0.0097,0.0155,0.0213,0.0271,0.0330,0.0388,0.0452,0.0510,0.0568,0.0626,0.0684,0.0749,0.0807,0.0865,0.0936,0.0994,0.1053,0.1117,0.1182,0.1399,0.1410,0.1420,0.1431,0.1442,0.1453,0.1425,0.1711,0.1722,0.1733,0.1744,0.1754,0.1726,0.1737,0.2012,0.2021,0.2034,0.2045,0.2055,0.2027,0.2064];
const z3y = [0.95706,0.95747,0.95768,0.94900,0.94115,0.93495,0.93268,0.93330,0.93247,0.93330,0.93392,0.93557,0.93722,0.94632,0.95417,0.95809,0.96037,0.95975,0.95871,0.95892,0.95954,0.95954,0.96078,0.95995,0.96126,0.96160,0.96016,0.95995,0.96037,0.95981,0.96037,0.95947,0.96016,0.95926,0.95981,0.95899,0.96085,0.96037,0.95995,0.95947,0.95981,0.96119,0.95912,0.96016,0.96085,0.96154,0.96202,0.96257,0.95981,0.96223];
const z3e = [0.0005,0.0005,0.0005,0.0005,0.0005,0.0005,0.0005,0.0005,0.0005,0.0005,0.0005,0.0005,0.0005,0.0005,0.0005,0.0005,0.0005,0.0005,0.0005,0.0005,0.0005,0.0005,0.0005,0.0005,0.0005,0.0005,0.0005,0.0005,0.0005,0.0006,0.0006,0.0006,0.0006,0.0006,0.0006,0.0006,0.0006,0.0006,0.0006,0.0006,0.0006,0.0006,0.0006,0.0006,0.0006,0.0006,0.0006,0.0006,0.0006,0.0006];
const z3r = [-0.03975,-0.03949,-0.03898,-0.04102,-0.03975,-0.03987,-0.04089,-0.03936,-0.04038,-0.03975,-0.03975,-0.03936,-0.04038,-0.04000,-0.04102,-0.04076,-0.03873,-0.03936,-0.04064,-0.04038,-0.03975,-0.04000,-0.03885,-0.03975,-0.03860,-0.03822,-0.03975,-0.03987,-0.03975,-0.0401,-0.0397,-0.0404,-0.0399,-0.0406,-0.0401,-0.0409,-0.0395,-0.0398,-0.0402,-0.0406,-0.0403,-0.0391,-0.0410,-0.0405,-0.0398,-0.0390,-0.0384,-0.0377,-0.0410,-0.0381];
const z3mx = [-0.0491,-0.0374,-0.0316,-0.0200,-0.0142,-0.0019,0.0097,0.0213,0.0271,0.0330,0.0388,0.0452,0.0865,0.1414,0.1726,0.2038];
const z3my = [0.9569,0.9571,0.9492,0.9351,0.9333,0.9326,0.9336,0.9374,0.9460,0.9538,0.9574,0.9593,0.9598,0.9600,0.9602,0.9605];

const t3uX = [-0.0515,0.00,0.09,0.16,0.2345];
const t3uMid = [0.0000,0.0002,0.0003,0.0001,-0.0004];
const t3uIn = [0.0003,0.0003,0.0003,0.0003,0.0003];
const t3uOut = [0.0005,0.0005,0.0005,0.0005,0.0006];
const t3gX = [-0.0556,-0.040,-0.020,0.00,0.05,0.10,0.15,0.18,0.2167];
const t3gMid = [-0.0091,-0.0095,-0.0097,-0.0099,-0.0098,-0.0097,-0.0098,-0.0099,-0.0104];
const t3gIn = [0.0006,0.0004,0.0003,0.0004,0.0003,0.0003,0.0003,0.0003,0.0004];
const t3gOut = [0.0012,0.0008,0.0006,0.0008,0.0005,0.0005,0.0005,0.0005,0.0006];
const t3rX = [-0.0536,-0.03,0.00,0.025,0.035,0.05,0.10,0.15,0.2193];
const t3rMid = [-0.0189,-0.0192,-0.0195,-0.0196,-0.0200,-0.0199,-0.0200,-0.0202,-0.0206];
const t3rIn = [0.0006,0.0004,0.0004,0.0006,0.0004,0.0003,0.0003,0.0003,0.0003];
const t3rOut = [0.0012,0.0008,0.0008,0.0012,0.0008,0.0005,0.0005,0.0005,0.0005];
const t3iX = [-0.0484,0.00,0.05,0.10,0.15,0.2103];
const t3iMid = [-0.0300,-0.0302,-0.0304,-0.0304,-0.0301,-0.0298];
const t3iIn = [0.0003,0.0003,0.0003,0.0003,0.0003,0.0003];
const t3iOut = [0.0005,0.0005,0.0005,0.0005,0.0005,0.0005];
const t3zX = [-0.0496,0.00,0.05,0.10,0.14,0.2064];
const t3zMid = [-0.0398,-0.0399,-0.0399,-0.0399,-0.0400,-0.0395];
const t3zIn = [0.0003,0.0003,0.0003,0.0003,0.0003,0.0003];
const t3zOut = [0.0006,0.0006,0.0006,0.0006,0.0006,0.0006];

// ---------- drawing ----------
const FONT = '"DejaVu Sans", sans-serif';
const MODEL_COLOR = "#c3d3e7";
const LEGEND_LINE = "#aeb3f3";
const DASH_COLOR = "#8797aa";
const ML = 80, MR = 12, MT = 12, MB = 60, FW = 496, FH = 369;
const ENVELOPE_STEPS = [1, 0.66, 0.33];   // soft fall-off of the posterior spread
const fig = document.getElementById("fig");
const fmt2 = d3.format(".2f");

const toRows = (xs, ys, es) => xs.map((x, i) => ({x, y: ys[i], e: es ? es[i] : 0}));

function makeSeries(xs, ys, es, rs, mx, my, tX, tMid, tIn, tOut) {
  return xs.map((x, k) => ({
    x, y: ys[k], e: es[k], r: rs[k], mx: mx[k], my: my[k],
    trend: tX[k].map((tx, i) => ({x: tx, mid: tMid[k][i], inner: tIn[k][i], outer: tOut[k][i]})),
    color: bandColors[k], name: bandNames[k], offset: residualOffsets[k], flux0: fluxOffsets[k]
  }));
}

function fluxMarks(series, withNames) {
  const m = [];
  for (const s of series) m.push(Plot.line(toRows(s.mx, s.my), {x: "x", y: "y", stroke: MODEL_COLOR, strokeWidth: 2.6}));
  for (const s of series) {
    const rows = toRows(s.x, s.y, s.e);
    m.push(Plot.ruleX(rows, {x: "x", y1: d => d.y - d.e, y2: d => d.y + d.e, stroke: s.color, strokeWidth: 2}));
    m.push(Plot.dot(rows, {x: "x", y: "y", r: 3.6, fill: s.color}));
  }
  if (withNames) {
    m.push(Plot.text(series, {y: "flux0", text: "name", frameAnchor: "left", dx: 32, dy: -6, textAnchor: "start", fontStyle: "italic", fontSize: 13.9, fill: "#000"}));
  }
  return m;
}

function residMarks(series, barsOnlyBand) {
  const m = [];
  for (const s of series) {
    m.push(Plot.ruleX(toRows(s.x, s.r, s.e), {x: "x", y1: d => d.y - d.e, y2: d => d.y + d.e, stroke: s.color, strokeWidth: 2}));
  }
  for (const s of series) {
    const t = s.trend;
    m.push(Plot.ruleY([s.offset], {x1: t[0].x, x2: t[t.length - 1].x, stroke: DASH_COLOR, strokeWidth: 1.5, strokeDasharray: "5,3"}));
    for (const f of ENVELOPE_STEPS) {
      const hw = d => d.inner + (d.outer - d.inner) * f;
      m.push(Plot.areaY(t, {x: "x", y1: d => d.mid - hw(d), y2: d => d.mid + hw(d), fill: "#000", fillOpacity: 0.07, curve: "monotone-x"}));
    }
    m.push(Plot.areaY(t, {x: "x", y1: d => d.mid - d.inner, y2: d => d.mid + d.inner, fill: "#000", fillOpacity: 0.2, curve: "monotone-x"}));
    const segs = t.slice(1).map((p, i) => ({x1: t[i].x, y1: t[i].mid, x2: p.x, y2: p.mid, w: (t[i].inner + p.inner) / 2}));
    m.push(Plot.link(segs, {x1: "x1", y1: "y1", x2: "x2", y2: "y2", stroke: "#000", strokeWidth: 4.5,
      strokeOpacity: d => Math.max(0.2, Math.min(0.95, 0.00035 / d.w))}));
  }
  series.forEach((s, k) => {
    if (k === barsOnlyBand) return;
    m.push(Plot.dot(toRows(s.x, s.r), {x: "x", y: "y", r: 3.6, fill: s.color}));
  });
  return m;
}

function panel({left, top, xDomain, yDomain, xTicks, yTicks, yLabel, yLabelDx, marks}) {
  const svg = Plot.plot({
    width: ML + FW + MR, height: MT + FH + MB,
    marginLeft: ML, marginRight: MR, marginTop: MT, marginBottom: MB,
    style: {fontFamily: FONT, fontSize: "13.9px", background: "transparent", color: "#000", overflow: "visible"},
    x: {domain: xDomain}, y: {domain: yDomain},
    marks: [
      ...marks,
      Plot.frame({stroke: "#000", strokeWidth: 1}),
      Plot.axisX({ticks: xTicks, tickFormat: fmt2, tickSize: 5, tickPadding: 6, fontSize: 13.9, label: null}),
      Plot.axisY({ticks: yTicks, tickFormat: fmt2, tickSize: 5, tickPadding: 5, fontSize: 13.9, label: null}),
      Plot.text([xAxisLabel], {frameAnchor: "bottom", dy: 35, textAnchor: "middle", lineAnchor: "middle", fontSize: 13.9, fill: "#000"}),
      Plot.text([yLabel], {frameAnchor: "left", dx: yLabelDx, rotate: -90, textAnchor: "middle", lineAnchor: "middle", fontSize: 13.9, fill: "#000"})
    ]
  });
  svg.classList.add("panel");
  svg.style.left = (left - ML) + "px";
  svg.style.top = (top - MT) + "px";
  fig.appendChild(svg);
}

function legend(left, top, date) {
  const box = document.createElement("div");
  box.className = "legend";
  box.style.left = left + "px";
  box.style.top = top + "px";
  box.innerHTML =
    `<svg width="40" height="44" style="position:absolute;left:0;top:0">
       <line x1="5" x2="34" y1="11.5" y2="11.5" stroke="${LEGEND_LINE}" stroke-width="2"/>
       <line x1="19.5" x2="19.5" y1="26" y2="39" stroke="#000" stroke-width="2"/>
       <circle cx="19.5" cy="32.5" r="3.6" fill="#000"/>
     </svg>
     <div class="t" style="top:2.5px">${legendLineLabel}</div>
     <div class="t" style="top:23.5px">${date} Data</div>`;
  fig.appendChild(box);
}

const night1 = makeSeries(
  [u1x, g1x, r1x, i1x, z1x], [u1y, g1y, r1y, i1y, z1y], [u1e, g1e, r1e, i1e, z1e], [u1r, g1r, r1r, i1r, z1r],
  [u1mx, g1mx, r1mx, i1mx, z1mx], [u1my, g1my, r1my, i1my, z1my],
  [t1uX, t1gX, t1rX, t1iX, t1zX], [t1uMid, t1gMid, t1rMid, t1iMid, t1zMid],
  [t1uIn, t1gIn, t1rIn, t1iIn, t1zIn], [t1uOut, t1gOut, t1rOut, t1iOut, t1zOut]);
const night2 = makeSeries(
  [u2x, g2x, r2x, i2x, z2x], [u2y, g2y, r2y, i2y, z2y], [u2e, g2e, r2e, i2e, z2e], [u2r, g2r, r2r, i2r, z2r],
  [u2mx, g2mx, r2mx, i2mx, z2mx], [u2my, g2my, r2my, i2my, z2my],
  [t2uX, t2gX, t2rX, t2iX, t2zX], [t2uMid, t2gMid, t2rMid, t2iMid, t2zMid],
  [t2uIn, t2gIn, t2rIn, t2iIn, t2zIn], [t2uOut, t2gOut, t2rOut, t2iOut, t2zOut]);
const night3 = makeSeries(
  [u3x, g3x, r3x, i3x, z3x], [u3y, g3y, r3y, i3y, z3y], [u3e, g3e, r3e, i3e, z3e], [u3r, g3r, r3r, i3r, z3r],
  [u3mx, g3mx, r3mx, i3mx, z3mx], [u3my, g3my, r3my, i3my, z3my],
  [t3uX, t3gX, t3rX, t3iX, t3zX], [t3uMid, t3gMid, t3rMid, t3iMid, t3zMid],
  [t3uIn, t3gIn, t3rIn, t3iIn, t3zIn], [t3uOut, t3gOut, t3rOut, t3iOut, t3zOut]);

// row 1
panel({left: 80, top: 58, xDomain: [-0.1793, 0.1395], yDomain: [0.9285, 1.0054], xTicks: ticksX1, yTicks: ticksFlux,
  yLabel: fluxAxisLabel, yLabelDx: -55, marks: fluxMarks(night1, true)});
panel({left: 720, top: 58, xDomain: [-0.1642, 0.1106], yDomain: [-0.0469, 0.0052], xTicks: ticksX1, yTicks: ticksResid,
  yLabel: residAxisLabel, yLabelDx: -65, marks: residMarks(night1, -1)});
// row 2 (r′ residuals are shown as bars only)
panel({left: 80, top: 538, xDomain: [-0.1200, 0.2001], yDomain: [0.9306, 1.0040], xTicks: ticksX3, yTicks: ticksFlux3,
  yLabel: fluxAxisLabel, yLabelDx: -55, marks: fluxMarks(night2, false)});
panel({left: 720, top: 538, xDomain: [-0.0335, 0.1206], yDomain: [-0.0449, 0.0053], xTicks: ticksX4, yTicks: ticksResid,
  yLabel: residAxisLabel, yLabelDx: -65, marks: residMarks(night2, 2)});
// row 3
panel({left: 80, top: 1018, xDomain: [-0.0703, 0.2501], yDomain: [0.9284, 1.0047], xTicks: ticksX5, yTicks: ticksFlux,
  yLabel: fluxAxisLabel, yLabelDx: -55, marks: fluxMarks(night3, false)});
panel({left: 720, top: 1018, xDomain: [-0.0704, 0.2492], yDomain: [-0.0438, 0.0032], xTicks: ticksX6, yTicks: ticksResid,
  yLabel: residAxisLabel, yLabelDx: -65, marks: residMarks(night3, -1)});

legend(87, 374, nightDates[0]);
legend(334, 854, nightDates[1]);
legend(334, 1334, nightDates[2]);
</script>
</body>
</html>
